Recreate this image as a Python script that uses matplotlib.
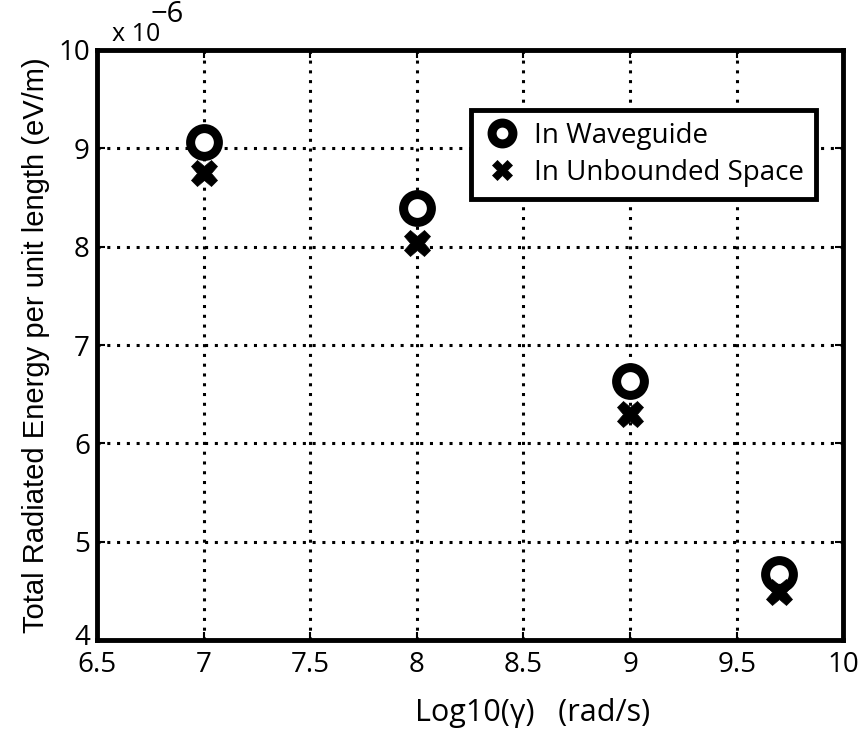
import numpy as np
import matplotlib
matplotlib.use('Agg')
import matplotlib.pyplot as plt
import matplotlib.transforms as mtransforms

# log10(gamma) and energies (units of 1e-6 eV/m)
log_gamma = [7, 8, 9, 9.7]
e_waveguide = [9.06, 8.39, 6.63, 4.67]
e_unbounded = [8.75, 8.04, 6.30, 4.49]

xticks = [6.5, 7, 7.5, 8, 8.5, 9, 9.5, 10]
yticks = [4, 5, 6, 7, 8, 9, 10]

plt.rcParams['font.family'] = ['Open Sans', 'DejaVu Sans']

fig = plt.figure(figsize=(8.65, 7.42), dpi=100)
ax = fig.add_axes([0.112, 0.137, 0.863, 0.796])

ax.plot(log_gamma, e_waveguide, linestyle='none', marker='o', markersize=20,
        markerfacecolor='white', markeredgecolor='black', markeredgewidth=6.5,
        label='In Waveguide', zorder=3)
ax.plot(log_gamma, e_unbounded, linestyle='none', marker='X', markersize=19,
        markerfacecolor='black', markeredgecolor='black', markeredgewidth=0.5,
        label='In Unbounded Space', zorder=3)

ax.set_xlim(6.5, 10)
ax.set_ylim(4, 10)
ax.set_xticks(xticks)
ax.set_yticks(yticks)
ax.set_xticklabels(['6.5', '7', '7.5', '8', '8.5', '9', '9.5', '10'])
ax.set_yticklabels([str(v) for v in yticks])
ax.tick_params(direction='in', length=6, width=1.5, labelsize=20,
               top=True, right=True)
ax.tick_params(axis='x', pad=8)
ax.tick_params(axis='y', pad=5)
ax.grid(True, color='black', linestyle=(0, (1, 2.2)), linewidth=2.2)
for s in ax.spines.values():
    s.set_linewidth(3.5)

# nudge the bottom y label up a little so it clears "6.5"
fig.canvas.draw()
lab4 = ax.get_yticklabels()[0]
lab4.set_transform(lab4.get_transform() +
                   mtransforms.ScaledTranslation(0, 4 / 72, fig.dpi_scale_trans))

ax.set_xlabel('Log10(\u03b3)   (rad/s)', fontsize=22)
ax.xaxis.set_label_coords(0.583, -0.097)
ax.set_ylabel('Total Radiated Energy per unit length (eV/m)', fontsize=21,
              family=['Liberation Sans', 'DejaVu Sans'], labelpad=6)
ax.text(0.02, 1.005, 'x 10', transform=ax.transAxes,
        fontsize=18, ha='left', va='bottom')
ax.text(0.072, 1.035, '\u2212' + '6', transform=ax.transAxes,
        fontsize=21, ha='left', va='bottom')

leg = ax.legend(loc='upper right', bbox_to_anchor=(0.982, 0.922), fontsize=20,
                fancybox=False, framealpha=1, edgecolor='black',
                handletextpad=0.5, borderpad=0.45, labelspacing=0.3,
                handlelength=1.3, markerscale=0.75)
leg.get_frame().set_linewidth(3.5)

fig.savefig('out.png', dpi=100)
